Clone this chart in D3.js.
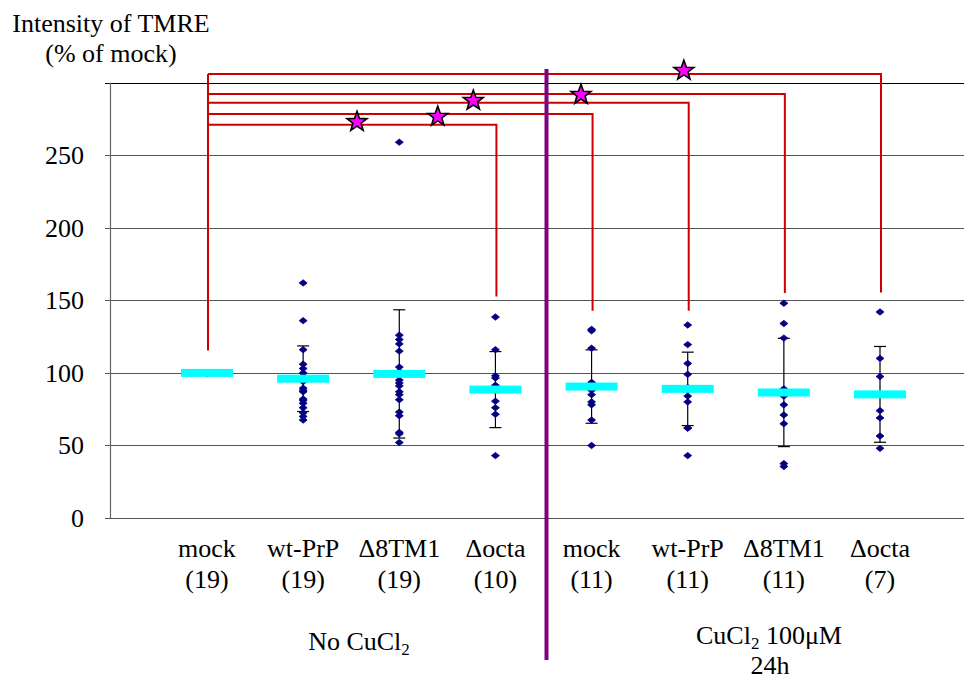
<!DOCTYPE html>
<html>
<head>
<meta charset="utf-8">
<script src="https://cdn.jsdelivr.net/npm/d3@7"></script>
<style>
  body { margin: 0; background: #fff; }
  svg text { font-family: 'Liberation Serif', 'Times New Roman', 'DejaVu Serif', serif; fill: #000; }
</style>
</head>
<body>
<script>
// categories and sample sizes
var categories = ["mock", "wt-PrP", "\u03948TM1", "\u0394octa", "mock", "wt-PrP", "\u03948TM1", "\u0394octa"];
var counts = ["(19)", "(19)", "(19)", "(10)", "(11)", "(11)", "(11)", "(7)"];
var yTicks = [0, 50, 100, 150, 200, 250, 300];

// mean and SD per group (% of mock)
var means = [100, 96, 99.3, 88.5, 90.6, 89, 86.5, 85.2];
var sds = [0, 22.6, 44.2, 26.2, 25.3, 25.3, 37.3, 33];

// individual measurements per group
var mockA = [100, 100, 100, 100, 100, 100, 100, 100, 100, 100, 100, 100, 100, 100, 100, 100, 100, 100, 100];
var wtA = [162, 136, 116, 106, 103, 100, 98, 96, 94, 89.5, 88, 87, 82, 81, 79, 76, 72.5, 70, 67.5];
var tmA = [259, 126, 123, 120, 115, 104, 101, 98, 95, 93, 91, 87, 85, 81.5, 73, 70.5, 59, 58, 52];
var octaA = [138.5, 116, 98, 96.5, 91.5, 88, 80.5, 76, 71.5, 43];
var mockB = [130, 129, 117, 93.5, 90, 88, 85, 80, 78, 67.5, 50];
var wtB = [133, 119.5, 106.5, 99, 90, 88, 84, 80, 62, 62, 43];
var tmB = [148, 134, 124, 89, 86, 84, 78, 71, 65, 37.5, 35.5];
var octaB = [142, 110, 97.5, 74, 69, 56.5, 48];
var points = [mockA, wtA, tmA, octaA, mockB, wtB, tmB, octaB];

// significance brackets: from mock (no CuCl2) to target group
var bracketTargets = [3, 4, 5, 6, 7];
var bracketLevels = [271, 278.4, 286.2, 292.2, 306];
var bracketStart = 115.4;
var bracketEnds = [152.6, 142.8, 142.8, 155, 155.4];
var starX = [1.56, 2.4, 2.77, 3.89, 4.96];
var starY = [273, 276.6, 287.6, 291.7, 308.3];

var w = 964, h = 679;
var FONT = "'Liberation Serif', 'Times New Roman', 'DejaVu Serif', serif";
var svg = d3.select("body").append("svg").attr("width", w).attr("height", h)
  .attr("font-family", FONT);

var x = d3.scaleLinear().domain([0, 7]).range([207, 880]);
var y = d3.scaleLinear().domain([0, 300]).range([518, 82.7]);
var axisX = 110;

function txt(sel) {
  return sel.attr("font-family", FONT).attr("font-size", 26);
}

// gridlines
svg.append("g").selectAll("line").data(yTicks).enter().append("line")
  .attr("x1", axisX - 5).attr("x2", w)
  .attr("y1", function(d) { return Math.round(y(d)) + 0.5; })
  .attr("y2", function(d) { return Math.round(y(d)) + 0.5; })
  .attr("stroke", function(d) { return d == 300 ? "#000" : "#555"; })
  .attr("stroke-width", 1.2);

// y axis line
svg.append("line").attr("x1", axisX + 0.5).attr("x2", axisX + 0.5)
  .attr("y1", y(300)).attr("y2", y(0))
  .attr("stroke", "#666").attr("stroke-width", 1.2);

// tick labels (300 has none)
txt(svg.append("g").selectAll("text").data(yTicks.filter(function(d) { return d < 300; })).enter().append("text"))
  .attr("x", 84).attr("y", function(d) { return y(d) + 9; })
  .attr("text-anchor", "end")
  .text(function(d) { return d; });

// axis title
txt(svg.append("text")).attr("x", 111).attr("y", 32).attr("text-anchor", "middle").text("Intensity of TMRE");
txt(svg.append("text")).attr("x", 111).attr("y", 62).attr("text-anchor", "middle").text("(% of mock)");

// brackets
var red = "#d00000";
var br = svg.append("g").attr("fill", "none").attr("stroke", red).attr("stroke-width", 2);
br.append("line").attr("x1", x(0) + 1).attr("x2", x(0) + 1)
  .attr("y1", y(d3.max(bracketLevels))).attr("y2", y(bracketStart));
bracketTargets.forEach(function(t, i) {
  br.append("path")
    .attr("d", "M" + (x(0) + 1) + "," + y(bracketLevels[i]) +
               "H" + (x(t) + 1) + "V" + y(bracketEnds[i]));
});

// error bars
var eb = svg.append("g").attr("stroke", "#000").attr("stroke-width", 1.2);
means.forEach(function(m, i) {
  if (sds[i] == 0) return;
  var cx = x(i);
  eb.append("line").attr("x1", cx).attr("x2", cx).attr("y1", y(m + sds[i])).attr("y2", y(m - sds[i]));
  eb.append("line").attr("x1", cx - 6).attr("x2", cx + 6).attr("y1", y(m + sds[i])).attr("y2", y(m + sds[i]));
  eb.append("line").attr("x1", cx - 6).attr("x2", cx + 6).attr("y1", y(m - sds[i])).attr("y2", y(m - sds[i]));
});

// data points (diamonds)
var pts = [];
points.forEach(function(arr, i) { arr.forEach(function(v) { pts.push({ i: i, v: v }); }); });
svg.append("g").selectAll("path").data(pts).enter().append("path")
  .attr("d", "M0,-3.2L4,0L0,3.2L-4,0Z")
  .attr("transform", function(d) { return "translate(" + x(d.i) + "," + y(d.v) + ")"; })
  .attr("fill", "#000080").attr("stroke", "#000080").attr("stroke-width", 0.8);

// mean bars
svg.append("g").selectAll("rect").data(means).enter().append("rect")
  .attr("x", function(d, i) { return x(i) - 26; })
  .attr("y", function(d) { return y(d) - 4; })
  .attr("width", 52).attr("height", 8)
  .attr("fill", "#00ffff");

// stars
function starPath(R, r) {
  var p = [];
  for (var k = 0; k < 10; k++) {
    var rad = k % 2 ? r : R;
    var a = -Math.PI / 2 + k * Math.PI / 5;
    p.push([rad * Math.cos(a), rad * Math.sin(a)]);
  }
  return "M" + p.join("L") + "Z";
}
svg.append("g").selectAll("path").data(starX).enter().append("path")
  .attr("d", starPath(10.5, 4.3))
  .attr("transform", function(d, i) { return "translate(" + x(d) + "," + y(starY[i]) + ")"; })
  .attr("fill", "#ff00ff").attr("stroke", "#000").attr("stroke-width", 1.6)
  .attr("stroke-linejoin", "miter");

// divider
svg.append("line").attr("x1", 546.5).attr("x2", 546.5).attr("y1", 69).attr("y2", 660)
  .attr("stroke", "#800080").attr("stroke-width", 4);

// category labels
var lab = svg.append("g").attr("text-anchor", "middle");
txt(lab.selectAll(".cat").data(categories).enter().append("text"))
  .attr("x", function(d, i) { return x(i); }).attr("y", 557).text(function(d) { return d; });
txt(lab.selectAll(".cnt").data(counts).enter().append("text"))
  .attr("x", function(d, i) { return x(i); }).attr("y", 588).text(function(d) { return d; });

// group labels
var g1 = txt(svg.append("text")).attr("x", 359).attr("y", 650).attr("text-anchor", "middle");
g1.append("tspan").text("No CuCl");
g1.append("tspan").attr("dy", 5).attr("font-size", 17).text("2");

var g2 = txt(svg.append("text")).attr("x", 769).attr("y", 644).attr("text-anchor", "middle");
g2.append("tspan").text("CuCl");
g2.append("tspan").attr("dy", 5).attr("font-size", 17).text("2");
g2.append("tspan").attr("dy", -5).text(" 100\u03bcM");
txt(svg.append("text")).attr("x", 770).attr("y", 674).attr("text-anchor", "middle").text("24h");
</script>
</body>
</html>
